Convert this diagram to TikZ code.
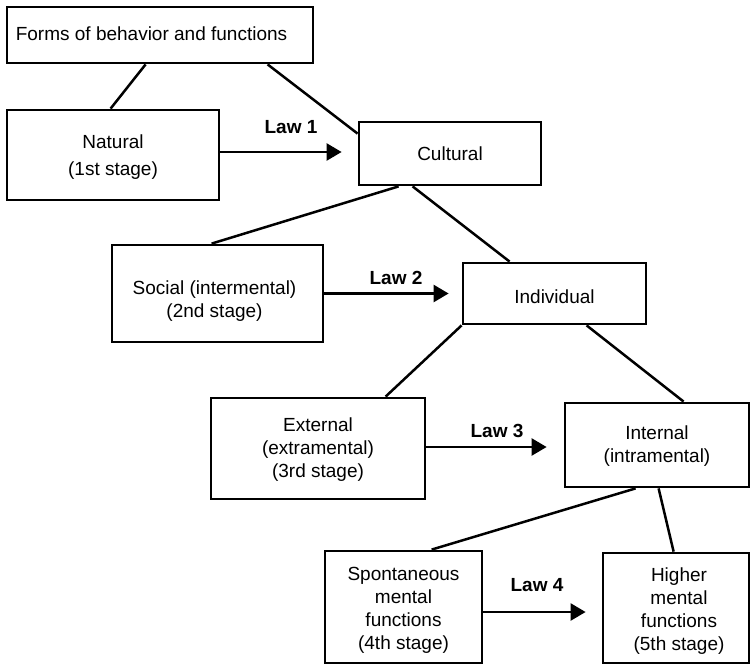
\documentclass[tikz,border=0pt]{standalone}
\usepackage{fontspec}
\setmainfont{Liberation Sans}
\usetikzlibrary{arrows.meta}
\begin{document}
\begin{tikzpicture}[x=1pt,y=-1pt,
  box/.style={draw=black, line width=2.8pt, rectangle, inner sep=0pt},
  boxtext/.style={align=center, inner sep=0pt, font=\fontsize{19}{23}\selectfont},
  link/.style={draw=black, line width=2.5pt},
  lawarrow/.style={draw=black, line width=2.5pt, -{Triangle[length=15pt,width=17pt]}},
  lawlabel/.style={font=\fontsize{19}{23}\selectfont\bfseries}]
\useasboundingbox (0,0) rectangle (751,666);

% boxes
\node[box, minimum width=306pt, minimum height=56pt] (forms) at (160,35) {};
\node[box, minimum width=212pt, minimum height=90pt] (natural) at (113,155) {};
\node[box, minimum width=182pt, minimum height=63pt] (cultural) at (450,153.5) {};
\node[box, minimum width=211pt, minimum height=97pt] (social) at (217.5,293.5) {};
\node[box, minimum width=183pt, minimum height=61pt] (individual) at (554.5,293.5) {};
\node[box, minimum width=214pt, minimum height=101pt] (external) at (318,448.5) {};
\node[box, minimum width=184pt, minimum height=84pt] (internal) at (657,445) {};
\node[box, minimum width=157pt, minimum height=112pt] (spont) at (403.5,607) {};
\node[box, minimum width=146pt, minimum height=110pt] (higher) at (676,608) {};

% box texts
\node[boxtext, anchor=west] (formstext) at ([xshift=10pt,yshift=1pt]forms.west)
  {Forms of behavior and functions};
\node[boxtext] (naturaltext) at ([yshift=-2pt]natural.center) {Natural\\[4pt](1st stage)};
\node[boxtext] (culturaltext) at (cultural.center) {Cultural};
\node[boxtext] (socialtext) at ([xshift=-3pt,yshift=-8pt]social.center)
  {Social (intermental)\\(2nd stage)};
\node[boxtext] (individualtext) at ([yshift=-3pt]individual.center) {Individual};
\node[boxtext] (externaltext) at ([yshift=-1pt]external.center)
  {External\\(extramental)\\(3rd stage)};
\node[boxtext] (internaltext) at ([yshift=-1.5pt]internal.center)
  {Internal\\(intramental)};
\node[boxtext] (sponttext) at ([yshift=-3pt]spont.center)
  {Spontaneous\\mental\\functions\\(4th stage)};
\node[boxtext] (highertext) at ([xshift=3pt,yshift=-3pt]higher.center)
  {Higher\\mental\\functions\\(5th stage)};

% tree links
\draw[link] ([xshift=140pt]forms.south west) -- ([xshift=105pt]natural.north west);
\draw[link] ([xshift=262pt]forms.south west) -- ([yshift=-13pt]cultural.north west);
\draw[link] ([xshift=41pt]cultural.south west) -- ([xshift=101pt]social.north west);
\draw[link] ([xshift=55pt]cultural.south west) -- ([xshift=48pt]individual.north west);
\draw[link] (individual.south west) -- ([xshift=176pt]external.north west);
\draw[link] ([xshift=125pt]individual.south west) -- ([xshift=120pt]internal.north west);
\draw[link] ([xshift=72pt]internal.south west) -- ([xshift=108pt]spont.north west);
\draw[link] ([xshift=95pt]internal.south west) -- ([xshift=72pt]higher.north west);

% laws
\draw[lawarrow, shorten >=16pt] ([yshift=3pt]natural.east) -- ([yshift=3pt]natural.east -| cultural.west);
\draw[lawarrow, shorten >=13pt] (social.east) -- (social.east -| individual.west);
\draw[lawarrow, shorten >=17pt] ([yshift=1.5pt]external.east) -- ([yshift=1.5pt]external.east -| internal.west);
\draw[lawarrow, shorten >=16pt] ([yshift=-5pt]spont.east) -- ([yshift=-5pt]spont.east -| higher.west);

\node[lawlabel] (law1) at (291,127) {Law 1};
\node[lawlabel] (law2) at (396,278) {Law 2};
\node[lawlabel] (law3) at (497,431) {Law 3};
\node[lawlabel] (law4) at (537,585) {Law 4};
\end{tikzpicture}
\end{document}
